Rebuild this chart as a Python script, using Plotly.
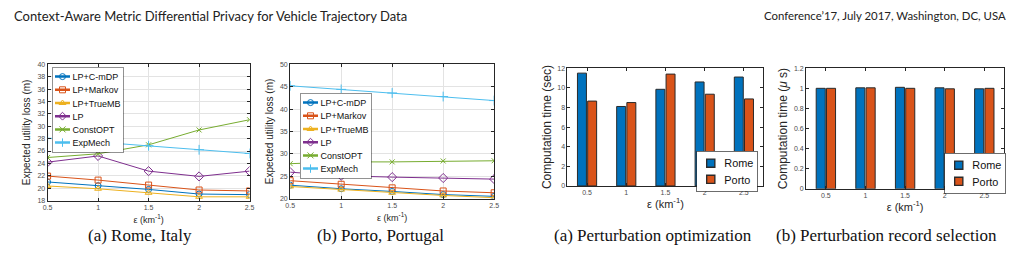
import plotly.graph_objects as go

W, H = 1021, 259

eps = [0.5, 1, 1.5, 2, 2.5]
eps_labels = ["0.5", "1", "1.5", "2", "2.5"]

methods = ["LP+C-mDP", "LP+Markov", "LP+TrueMB", "LP", "ConstOPT", "ExpMech"]
rome_loss = {
    "LP+C-mDP": [21.0, 20.4, 19.8, 19.05, 18.95],
    "LP+Markov": [21.95, 21.3, 20.5, 19.7, 19.55],
    "LP+TrueMB": [20.35, 19.9, 19.25, 18.6, 18.6],
    "LP": [24.2, 25.2, 22.75, 21.9, 22.75],
    "ConstOPT": [24.95, 25.55, 27.0, 29.4, 31.05],
    "ExpMech": [28.05, 27.45, 26.85, 26.2, 25.6],
}
porto_loss = {
    "LP+C-mDP": [23.0, 22.2, 21.6, 20.9, 20.5],
    "LP+Markov": [24.0, 23.2, 22.4, 21.7, 21.3],
    "LP+TrueMB": [22.7, 22.0, 21.3, 20.7, 20.2],
    "LP": [25.9, 25.1, 24.8, 24.6, 24.35],
    "ConstOPT": [27.8, 28.2, 28.2, 28.4, 28.45],
    "ExpMech": [45.2, 44.4, 43.6, 42.8, 41.9],
}

opt_rome = [11.5, 8.1, 9.85, 10.6, 11.1]
opt_porto = [8.65, 8.5, 11.4, 9.35, 8.87]
sel_rome = [1.0, 1.005, 1.01, 1.005, 0.995]
sel_porto = [1.0, 1.005, 1.0, 0.995, 1.0]

colors = {
    "LP+C-mDP": "#0072BD",
    "LP+Markov": "#D95319",
    "LP+TrueMB": "#EDB120",
    "LP": "#7E2F8E",
    "ConstOPT": "#77AC30",
    "ExpMech": "#4DBEEE",
}
symbols = {
    "LP+C-mDP": "circle-open",
    "LP+Markov": "square-open",
    "LP+TrueMB": "triangle-up-open",
    "LP": "diamond-open",
    "ConstOPT": "x-thin-open",
    "ExpMech": "cross-thin-open",
}
msize = {"LP+C-mDP": 6, "LP+Markov": 6, "LP+TrueMB": 6, "LP": 7,
         "ConstOPT": 5, "ExpMech": 7}

def px_x(a, b):
    return [a / W, b / W]

def px_y(top, bot):
    return [1 - bot / H, 1 - top / H]

fig = go.Figure()

sans = "Liberation Sans, Arial, sans-serif"
tickfont = dict(family=sans, size=7, color="#4d4d4d")

for i, (data, leg) in enumerate([(rome_loss, "legend"), (porto_loss, "legend2")]):
    xa = "x" if i == 0 else "x2"
    ya = "y" if i == 0 else "y2"
    for m in methods:
        fig.add_trace(go.Scatter(
            x=eps, y=data[m], name=m, mode="lines+markers",
            line=dict(color=colors[m], width=1),
            marker=dict(symbol=symbols[m], size=msize[m], color=colors[m],
                        line=dict(color=colors[m], width=1)),
            xaxis=xa, yaxis=ya, legend=leg, showlegend=True))

bar_sets = [(opt_rome, opt_porto, "x3", "y3", "legend3"),
            (sel_rome, sel_porto, "x4", "y4", "legend4")]
for r, p, xa, ya, leg in bar_sets:
    fig.add_trace(go.Bar(x=eps_labels, y=r, name="Rome", xaxis=xa, yaxis=ya,
                         marker=dict(color="#0072BD", line=dict(color="#2a2a2a", width=1)),
                         legend=leg))
    fig.add_trace(go.Bar(x=eps_labels, y=p, name="Porto", xaxis=xa, yaxis=ya,
                         marker=dict(color="#D95319", line=dict(color="#2a2a2a", width=1)),
                         legend=leg))

axis_common = dict(showline=True, linecolor="#262626", linewidth=1, mirror="ticks",
                   ticks="inside", ticklen=3, tickcolor="#262626", tickfont=tickfont,
                   zeroline=False)

xtitle = "ε (km<sup>-1</sup>)"

fig.update_layout(
    width=W, height=H, margin=dict(l=0, r=0, t=0, b=0),
    paper_bgcolor="white", plot_bgcolor="white",
    barmode="group", bargap=0.48, bargroupgap=0.12,
    xaxis=dict(domain=px_x(43, 247), range=[0.5, 2.5], tickvals=eps, ticktext=eps_labels,
               showgrid=True, gridcolor="#e3e3e3", anchor="y",
               title=dict(text=xtitle, font=dict(family=sans, size=9, color="#262626"), standoff=6),
               **axis_common),
    yaxis=dict(domain=px_y(62, 202), range=[18, 40], dtick=2,
               showgrid=True, gridcolor="#e3e3e3", anchor="x",
               title=dict(text="Expected utility loss (m)", font=dict(family=sans, size=10, color="#262626"), standoff=4),
               **axis_common),
    xaxis2=dict(domain=px_x(288, 494), range=[0.5, 2.5], tickvals=eps, ticktext=eps_labels,
                showgrid=True, gridcolor="#e3e3e3", anchor="y2",
                title=dict(text=xtitle, font=dict(family=sans, size=9, color="#262626"), standoff=6),
                **axis_common),
    yaxis2=dict(domain=px_y(62, 200), range=[20, 50], dtick=5,
                showgrid=True, gridcolor="#e3e3e3", anchor="x2",
                title=dict(text="Expected utility loss (m)", font=dict(family=sans, size=10, color="#262626"), standoff=4),
                **axis_common),
    xaxis3=dict(domain=px_x(568, 766), type="category", showgrid=False, anchor="y3",
                title=dict(text=xtitle, font=dict(family=sans, size=11, color="#262626"), standoff=4),
                **axis_common),
    yaxis3=dict(domain=px_y(66, 187), range=[0, 12], dtick=2, showgrid=False, anchor="x3",
                title=dict(text="Computation time (sec)", font=dict(family=sans, size=12, color="#262626"), standoff=3),
                **axis_common),
    xaxis4=dict(domain=px_x(809, 1009), type="category", showgrid=False, anchor="y4",
                title=dict(text=xtitle, font=dict(family=sans, size=11, color="#262626"), standoff=4),
                **axis_common),
    yaxis4=dict(domain=px_y(66, 190), range=[0, 1.2], dtick=0.2, showgrid=False, anchor="x4",
                title=dict(text="Computation time (<i>μ</i> s)", font=dict(family=sans, size=12, color="#262626"), standoff=3),
                **axis_common),
)

# Legends are laid out at a large size in the top-left corner (so they never
# push the margins), then moved and scaled to their final place by post_script.
leg_common = dict(bgcolor="white", bordercolor="#262626", borderwidth=1,
                  tracegroupgap=0, itemwidth=30, itemsizing="constant",
                  xanchor="left", yanchor="top", x=0, y=1)
fig.update_layout(
    legend=dict(font=dict(family=sans, size=18, color="#111"), **leg_common),
    legend2=dict(font=dict(family=sans, size=18, color="#111"), **leg_common),
    legend3=dict(font=dict(family=sans, size=16, color="#111"), **leg_common),
    legend4=dict(font=dict(family=sans, size=16, color="#111"), **leg_common),
)

hdr_font_l = dict(family="Lato, sans-serif", size=13, color="#222")
hdr_font_r = dict(family="Lato, sans-serif", size=11.4, color="#222")
cap_font = dict(family="Liberation Serif, serif", size=17, color="#111")
ann = [
    dict(text="Context-Aware Metric Differential Privacy for Vehicle Trajectory Data",
         x=7 / W, y=1 - 12 / H, xanchor="left", yanchor="middle", font=hdr_font_l),
    dict(text="Conference’17, July 2017, Washington, DC, USA",
         x=1013 / W, y=1 - 12 / H, xanchor="right", yanchor="middle", font=hdr_font_r),
    dict(text="(a) Rome, Italy", x=136 / W, y=1 - 238 / H, xanchor="center", yanchor="middle", font=cap_font),
    dict(text="(b) Porto, Portugal", x=379 / W, y=1 - 238 / H, xanchor="center", yanchor="middle", font=cap_font),
    dict(text="(a) Perturbation optimization", x=654 / W, y=1 - 238 / H, xanchor="center", yanchor="middle", font=cap_font),
    dict(text="(b) Perturbation record selection", x=890 / W, y=1 - 238 / H, xanchor="center", yanchor="middle", font=cap_font),
]
for a in ann:
    a.update(xref="paper", yref="paper", showarrow=False)
fig.update_layout(annotations=ann)

post = """
var gd = document.getElementById('{plot_id}');
function fixLegends(){
  // [anchor x, top y, scale, anchor side]
  var pos = {legend: [52, 67, 0.5, 'l'], legend2: [300, 93, 0.5, 'l'],
             legend3: [757, 151, 0.68, 'r'], legend4: [1005, 153, 0.68, 'r']};
  Object.keys(pos).forEach(function(k){
    var g = gd.querySelector('g.infolayer > g.' + k);
    if(!g) return;
    var p = pos[k];
    var bg = g.querySelector('rect.bg');
    var w = bg ? parseFloat(bg.getAttribute('width')) : g.getBBox().width;
    var x = p[3] === 'r' ? p[0] - w * p[2] : p[0];
    g.setAttribute('transform', 'translate(' + x + ',' + p[1] + ') scale(' + p[2] + ')');
  });
}
fixLegends();
gd.on('plotly_afterplot', fixLegends);
"""

fig.write_html("out.html", post_script=post)
